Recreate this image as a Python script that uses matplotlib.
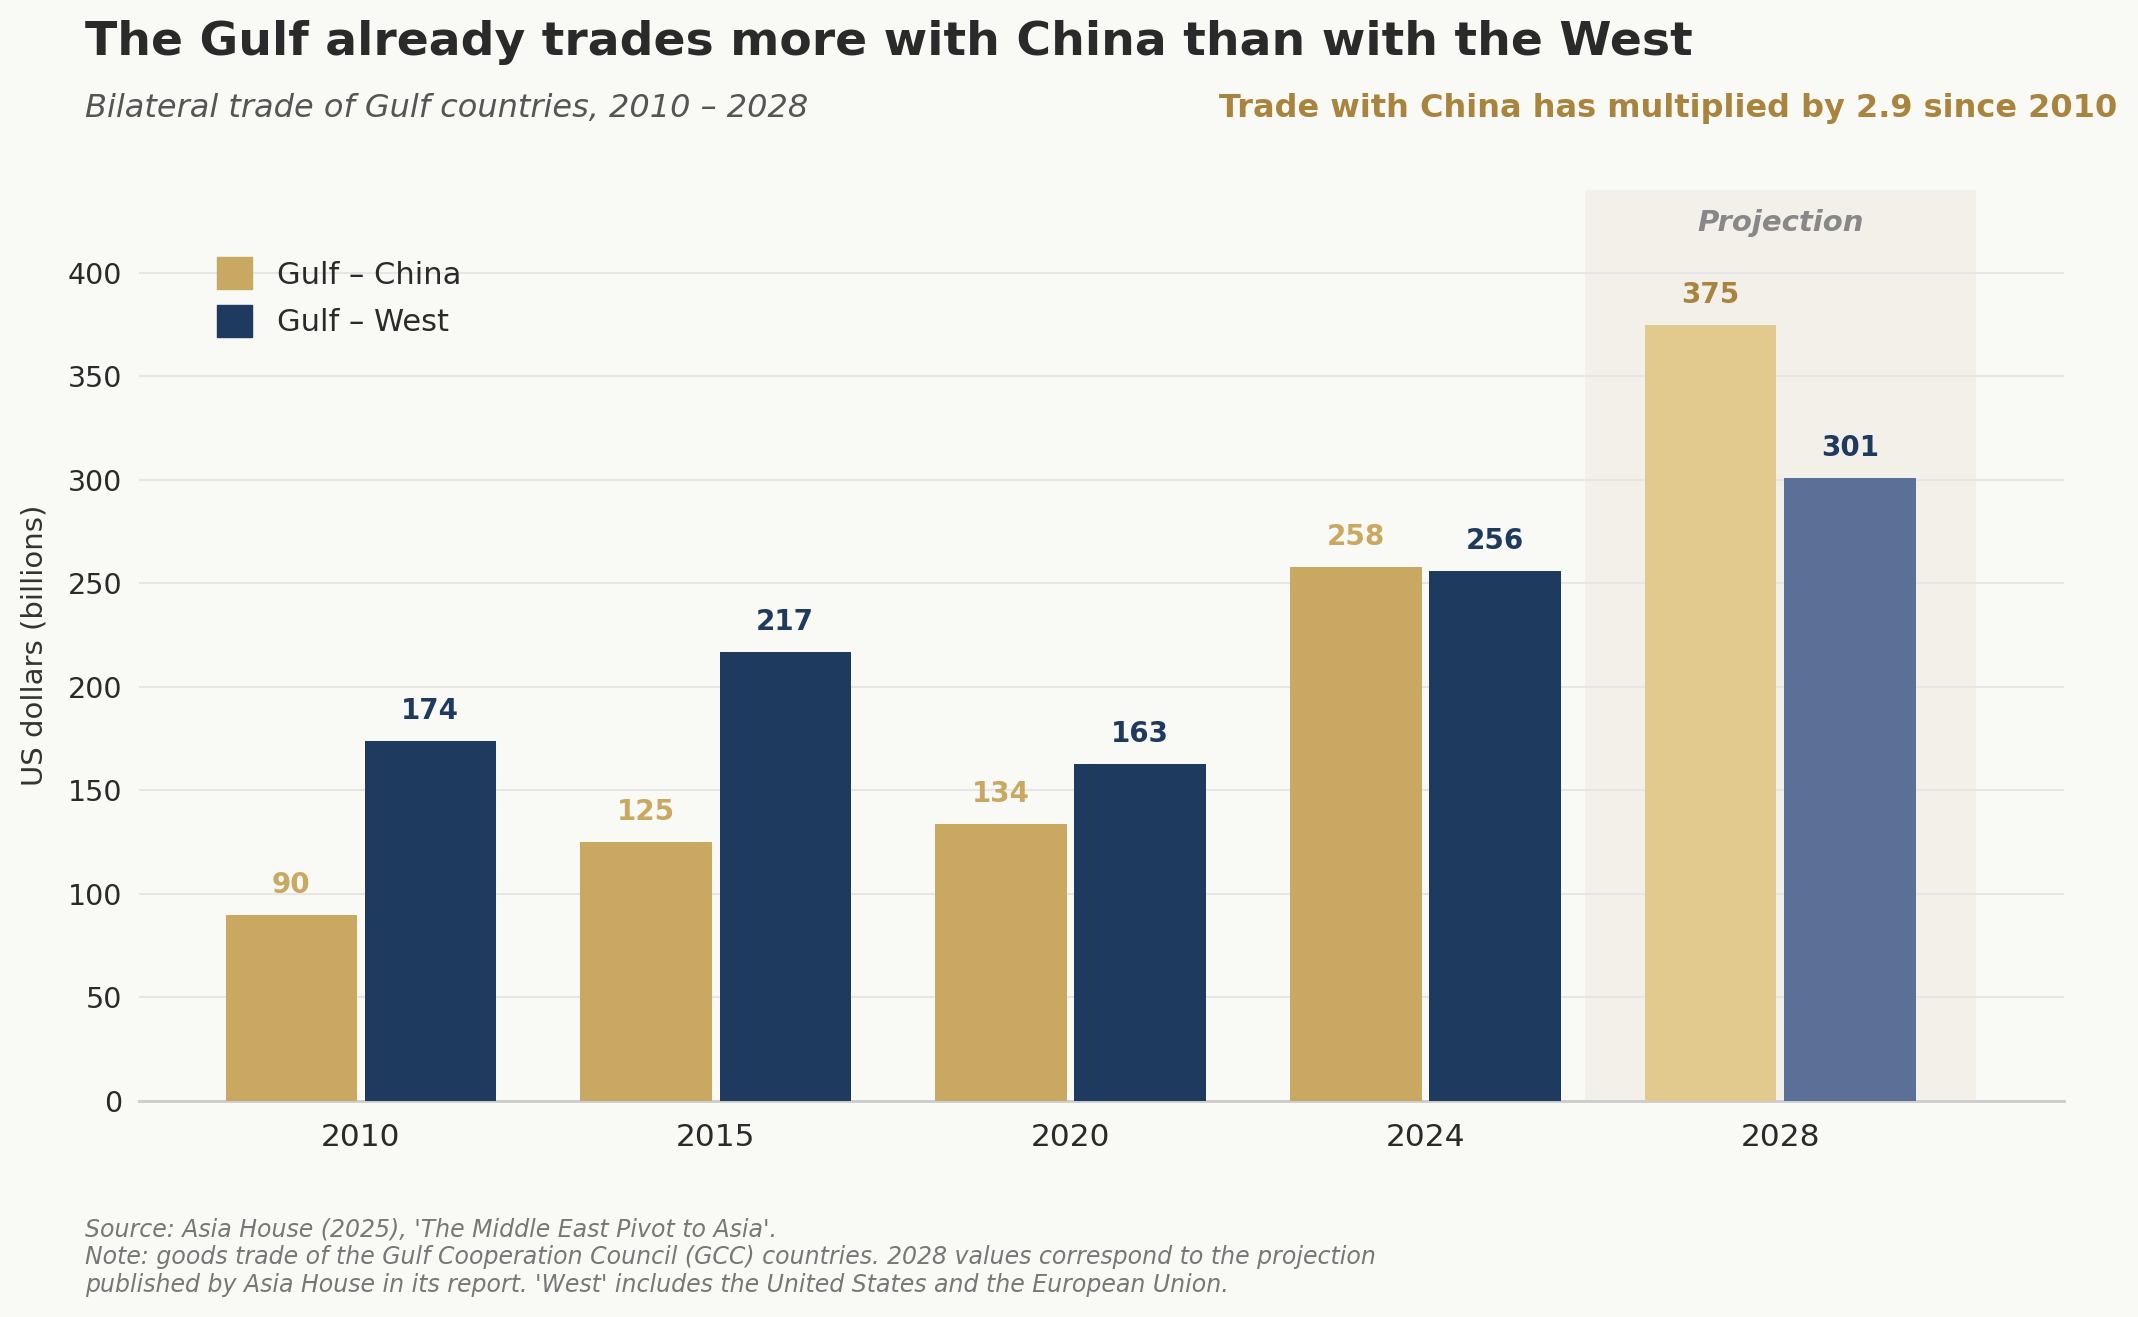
import matplotlib
matplotlib.use("Agg")
import matplotlib.pyplot as plt
import numpy as np
from matplotlib.patches import Patch

years = ["2010", "2015", "2020", "2024", "2028"]
china = [90, 125, 134, 258, 375]
west = [174, 217, 163, 256, 301]
projected = [False, False, False, False, True]
yticks = [0, 50, 100, 150, 200, 250, 300, 350, 400]

BG = "#f9f9f5"
C_CHINA = "#c9a862"
C_CHINA_P = "#e2ca8e"
C_WEST = "#1f3a5f"
C_WEST_P = "#5a7096"
C_GOLD_DARK = "#a8843f"

plt.rcParams['font.family'] = ['DejaVu Sans']
fig = plt.figure(figsize=(21.38, 13.17), dpi=100, facecolor=BG)
ax = fig.add_axes([0.065, 0.164, 0.9005, 0.6917], facecolor=BG)

x = np.arange(len(years))
w = 0.37
off = 0.196

ax.axvspan(3.45, 4.55, color="#f3f0ea", zorder=0, lw=0)

cc = [C_CHINA_P if p else C_CHINA for p in projected]
wc = [C_WEST_P if p else C_WEST for p in projected]
b1 = ax.bar(x - off, china, w, color=cc, zorder=3)
b2 = ax.bar(x + off, west, w, color=wc, zorder=3)

for i in range(len(years)):
    ax.annotate(str(china[i]), (x[i] - off, china[i]), xytext=(0, 15.8),
                textcoords="offset points", ha="center", va="baseline",
                fontsize=20, fontweight="bold",
                color=C_GOLD_DARK if projected[i] else C_CHINA, zorder=4)
    ax.annotate(str(west[i]), (x[i] + off, west[i]), xytext=(0, 15.8),
                textcoords="offset points", ha="center", va="baseline",
                fontsize=20, fontweight="bold", color=C_WEST, zorder=4)

ax.text(4, 420, "Projection", ha="center", va="baseline", fontsize=21,
        fontweight="bold", fontstyle="italic", color="#888888", zorder=4)

ax.set_xlim(-0.625, 4.8)
ax.set_ylim(0, 440)
ax.set_yticks(yticks)
ax.set_xticks(x)
ax.set_xticklabels(years)
ax.tick_params(axis="x", length=0, pad=16, labelsize=22.5, labelcolor="#2a2a2a")
ax.tick_params(axis="y", length=0, pad=12, labelsize=20.5, labelcolor="#2a2a2a")
ax.grid(axis="y", color="#e6e6e6", lw=1.5, zorder=1)
ax.set_axisbelow(True)
for s in ["left", "right", "top"]:
    ax.spines[s].set_visible(False)
ax.spines["bottom"].set_color("#cccccc")
ax.spines["bottom"].set_linewidth(2)
ax.set_ylabel("US dollars (billions)", fontsize=21, color="#333333", labelpad=14)

handles = [Patch(color=C_CHINA, label="Gulf – China"), Patch(color=C_WEST, label="Gulf – West")]
ax.legend(handles=handles, loc="upper left", bbox_to_anchor=(0.0264, 0.9565), frameon=False,
          fontsize=22, handlelength=1.15, handleheight=1.25, handletextpad=0.8,
          labelspacing=0.5, labelcolor="#2a2a2a")

fig.text(0.0396, 0.958, "The Gulf already trades more with China than with the West",
         fontsize=34, fontweight="bold", color="#2a2a2a", ha="left", va="baseline")
fig.text(0.0396, 0.911, "Bilateral trade of Gulf countries, 2010 – 2028",
         fontsize=23, fontstyle="italic", color="#555555", ha="left", va="baseline")
fig.text(0.9905, 0.911, "Trade with China has multiplied by 2.9 since 2010",
         fontsize=23, fontweight="bold", color=C_GOLD_DARK, ha="right", va="baseline")

fig.text(0.0396, 1 - 1292 / 1317,
         "Source: Asia House (2025), 'The Middle East Pivot to Asia'.\n"
         "Note: goods trade of the Gulf Cooperation Council (GCC) countries. 2028 values correspond to the projection\n"
         "published by Asia House in its report. 'West' includes the United States and the European Union.",
         fontsize=17, fontstyle="italic", color="#777777", ha="left", va="baseline",
         linespacing=1.2)

fig.savefig("out.png", dpi=100, facecolor=BG)
